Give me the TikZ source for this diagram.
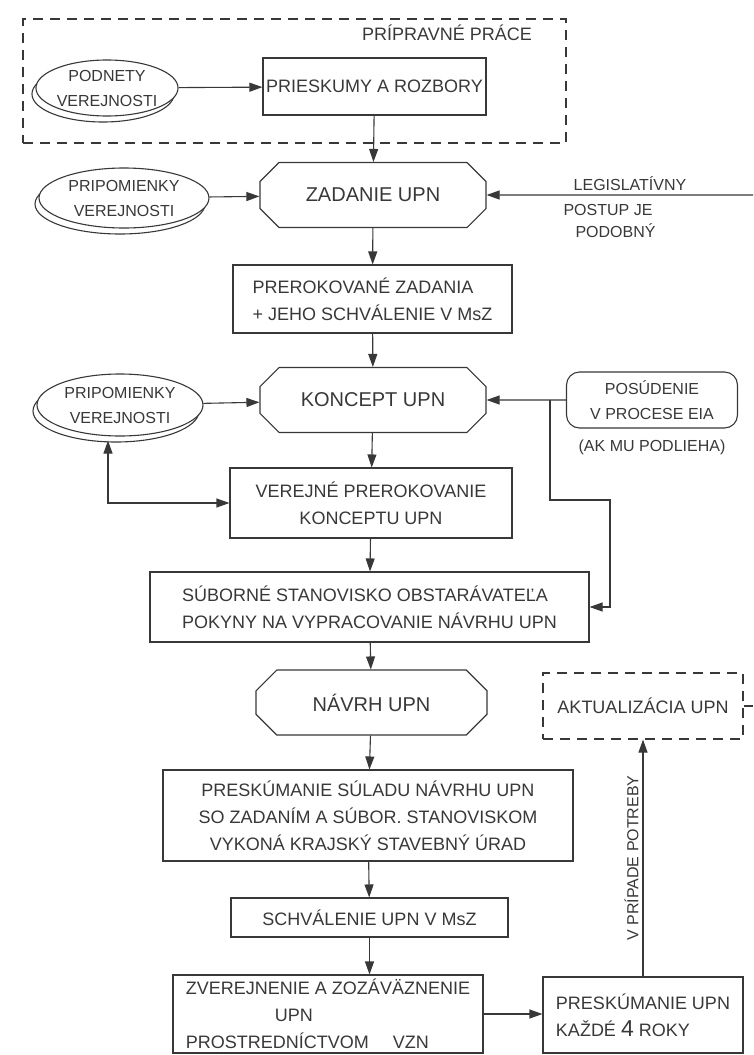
\documentclass[tikz,border=0pt]{standalone}
\usepackage{fontspec}
\setmainfont{Liberation Sans}
\usetikzlibrary{arrows.meta,shapes.geometric,shapes.misc,shadows,positioning}

\colorlet{ink}{black!78}

\tikzset{
  box/.style={draw, rectangle, inner sep=2pt, font=\fontsize{18}{27}\selectfont},
  stage/.style={draw, chamfered rectangle, chamfered rectangle sep=12pt,
    inner sep=0pt, font=\fontsize{20}{26}\selectfont},
  public/.style={draw, ellipse, fill=white, align=center, inner sep=0pt,
    copy shadow={shadow xshift=-4pt, shadow yshift=-6pt},
    font=\fontsize{16}{25}\selectfont},
  lbl/.style={font=\fontsize{16}{22}\selectfont, align=center, inner sep=0pt},
  longdash/.style={dash pattern=on 10pt off 7pt},
  flow/.style={->, line width=1.1pt}
}

\begin{document}
\begin{tikzpicture}[x=1pt, y=-1pt, line width=1.1pt, color=ink,
    >={Triangle[length=13pt,width=9pt]}]
    \useasboundingbox (0,0) rectangle (753,1055);
    %% Preparation
    \node[draw, longdash, minimum width=543pt, minimum height=124pt] (prep) at (294.5,81) {};
    \node[lbl, font=\fontsize{18}{22}\selectfont] (preplbl) at (447,33) {PRÍPRAVNÉ PRÁCE};
    \node[public, minimum width=140pt, minimum height=56pt] (podnety) at (107,88) {PODNETY\\VEREJNOSTI};
    \node[box, minimum width=223pt, minimum height=57pt] (prieskumy) at (374.5,86.5) {PRIESKUMY A ROZBORY};
    %% Assignment
    \node[stage, minimum width=226pt, minimum height=65pt] (zadanie) at (373,195) {ZADANIE UPN};
    \node[public, minimum width=170pt, minimum height=60pt] (pripA) at (124,198) {PRIPOMIENKY\\VEREJNOSTI};
    \coordinate (legisl) at (753,195);
    \node[lbl, anchor=south] (legtxt) at (630,191) {LEGISLATÍVNY};
    \node[lbl, align=left, anchor=north west] (legtxt2) at (563,204) {POSTUP JE\\\hspace*{12pt}PODOBNÝ};
    \node[box, align=left, minimum width=279pt, minimum height=68pt] (prerok) at (372.5,299) {PREROKOVANÉ ZADANIA\\+ JEHO SCHVÁLENIE V MsZ};
    %% Concept
    \node[stage, minimum width=226pt, minimum height=65pt] (koncept) at (373,400) {KONCEPT UPN};
    \node[public, minimum width=166pt, minimum height=62pt] (pripB) at (120,405) {PRIPOMIENKY\\VEREJNOSTI};
    \node[box, rounded corners=13pt, align=center, minimum width=171pt, minimum height=56pt,
      font=\fontsize{16}{25}\selectfont] (eia) at (652,400) {POSÚDENIE\\V PROCESE EIA};
    \node[lbl, below=11pt of eia] (eianote) {(AK MU PODLIEHA)};
    \node[box, align=center, minimum width=282pt, minimum height=70pt] (verejne) at (371,503) {VEREJNÉ PREROKOVANIE\\KONCEPTU UPN};
    \node[box, align=left, minimum width=439pt, minimum height=70pt] (suborne) at (369.5,607) {SÚBORNÉ STANOVISKO OBSTARÁVATEĽA\\POKYNY NA VYPRACOVANIE NÁVRHU UPN};
    %% Draft and approval
    \node[stage, minimum width=231pt, minimum height=65pt] (navrh) at (371.5,702.5) {NÁVRH UPN};
    \node[box, longdash, minimum width=200pt, minimum height=66pt] (aktual) at (643,706) {AKTUALIZÁCIA UPN};
    \coordinate (aktout) at (753,706);
    \node[box, align=center, minimum width=410pt, minimum height=91pt] (preskum) at (368,815.5) {PRESKÚMANIE SÚLADU NÁVRHU UPN\\SO ZADANÍM A SÚBOR. STANOVISKOM\\VYKONÁ KRAJSKÝ STAVEBNÝ ÚRAD};
    \node[box, minimum width=277pt, minimum height=39pt] (schval) at (369.5,917.5) {SCHVÁLENIE UPN V MsZ};
    \node[box, align=left, minimum width=310pt, minimum height=78pt] (zverej) at (328,1014) {ZVEREJNENIE A ZOZÁVÄZNENIE\\\hspace*{89pt}UPN\\PROSTREDNÍCTVOM\hspace*{24pt}VZN};
    \node[box, align=left, minimum width=200pt, minimum height=76pt] (revis) at (643,1015) {PRESKÚMANIE UPN\\KAŽDÉ {\fontsize{23}{27}\selectfont 4} ROKY};
    %% Main flow
    \draw[flow] (prieskumy) -- (zadanie);
    \draw[flow] (zadanie) -- (prerok);
    \draw[flow] (prerok) -- (koncept);
    \draw[flow] (koncept) -- (verejne);
    \draw[flow] (verejne) -- (suborne);
    \draw[flow] (suborne) -- (navrh);
    \draw[flow] (navrh) -- (preskum);
    \draw[flow] (preskum) -- (schval);
    \draw[flow] (schval.south) -- (schval.south |- zverej.north);
    %% Side inputs
    \draw[flow] (podnety) -- (prieskumy);
    \draw[flow] (pripA) -- (zadanie);
    \draw[flow] (legisl) -- (zadanie);
    \draw[flow] (pripB) -- (koncept);
    \draw[flow] (eia) -- (koncept);
    \coordinate (eiasplit) at (550,400);
    \coordinate (eiaturn) at (610,500);
    \draw[flow] (eiasplit) |- (eiaturn) |- (suborne.east);
    \draw[<->] ([xshift=-12pt,yshift=-4pt]pripB.south) |- (verejne.west);
    \draw[flow] (zverej.east) -- (zverej.east -| revis.west);
    \draw[flow] (revis) -- node[midway, sloped, above, lbl, inner sep=4pt] {V PRÍPADE POTREBY} (aktual);
    \draw (aktual.east) -- (aktout);
\end{tikzpicture}
\end{document}
